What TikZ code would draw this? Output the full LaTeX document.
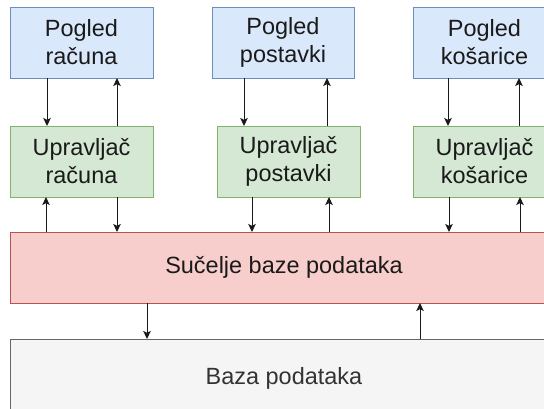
\documentclass[tikz,border=0pt]{standalone}
\usepackage{fontspec}
\setmainfont{Liberation Sans}
\usetikzlibrary{arrows.meta}
\definecolor{bfill}{HTML}{DAE8FC}
\definecolor{bline}{HTML}{6C8EBF}
\definecolor{gfill}{HTML}{D5E8D4}
\definecolor{gline}{HTML}{82B366}
\definecolor{rfill}{HTML}{F8CECC}
\definecolor{rline}{HTML}{B85450}
\definecolor{kfill}{HTML}{F5F5F5}
\definecolor{kline}{HTML}{666666}
\definecolor{ktext}{HTML}{333333}
\definecolor{txt}{HTML}{1A1A1A}
\begin{document}
\begin{tikzpicture}[x=0.75pt,y=-0.75pt,
  box/.style={draw, line width=0.75pt, inner sep=0pt, outer sep=0pt, align=center,
    font=\fontsize{17.6}{21}\selectfont, text=txt, minimum height=53.25pt},
  small/.style={box, minimum width=107.25pt},
  viewbox/.style={small, fill=bfill, draw=bline},
  ctrlbox/.style={small, fill=gfill, draw=gline},
  arr/.style={-{Stealth[length=6pt,width=5.6pt,inset=1.4pt]}, line width=0.75pt, draw=black!90}]
\useasboundingbox (0,0) rectangle (544,408);
\clip (0,0) rectangle (544,408);
\fill[white] (0,0) rectangle (544,408);
% view boxes
\node[viewbox] (b1) at (81.5,42.5) {Pogled\\računa};
\node[viewbox, minimum width=106.5pt] (b2) at (283,42.5) {Pogled\\postavki};
\node[viewbox] (b3) at (484.5,42.5) {Pogled\\košarice};
% controllers
\node[ctrlbox] (g1) at (81.5,161.5) {Upravljač\\računa};
\node[ctrlbox] (g2) at (288.5,161.5) {Upravljač\\postavki};
\node[ctrlbox] (g3) at (484.5,161.5) {Upravljač\\košarice};
% interface
\node[box, fill=rfill, draw=rline, minimum width=411pt] (r) at (284,267.5) {Sučelje baze podataka};
\node[box, fill=kfill, draw=kline, text=ktext, minimum width=411pt, minimum height=59.25pt] (d) at (284,378.5) {Baza podataka};
% x positions
\foreach \n/\x in {a1/47,a2/117,a3/46,a4/117,a5/244,a6/327,a7/252,a8/329,a9/448,a10/519,a11/449,a12/520,a13/147,a14/420}
  \coordinate (\n) at (\x,0);
% arrows
\draw[arr] (b1.south -| a1) -- (g1.north -| a1);
\draw[arr] (g1.north -| a2) -- (b1.south -| a2);
\draw[arr] (r.north -| a3) -- (g1.south -| a3);
\draw[arr] (g1.south -| a4) -- (r.north -| a4);
\draw[arr] (b2.south -| a5) -- (g2.north -| a5);
\draw[arr] (g2.north -| a6) -- (b2.south -| a6);
\draw[arr] (g2.south -| a7) -- (r.north -| a7);
\draw[arr] (r.north -| a8) -- (g2.south -| a8);
\draw[arr] (b3.south -| a9) -- (g3.north -| a9);
\draw[arr] (g3.north -| a10) -- (b3.south -| a10);
\draw[arr] (g3.south -| a11) -- (r.north -| a11);
\draw[arr] (r.north -| a12) -- (g3.south -| a12);
\draw[arr] (r.south -| a13) -- (d.north -| a13);
\draw[arr] (d.north -| a14) -- (r.south -| a14);
\end{tikzpicture}
\end{document}
